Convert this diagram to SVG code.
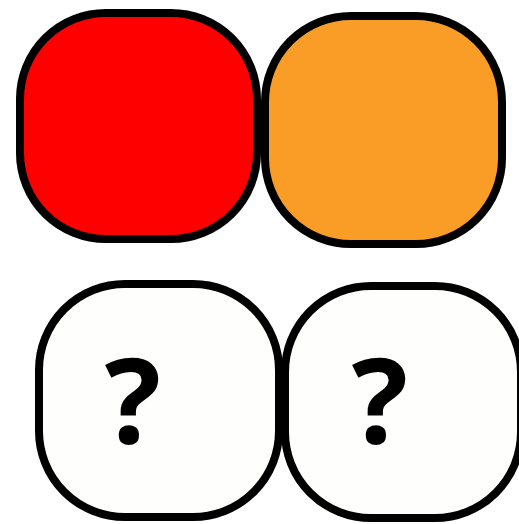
<svg xmlns="http://www.w3.org/2000/svg" width="519" height="524" viewBox="0 0 519 524">
<style>
.box{stroke:#000;stroke-width:8}
.q{font-family:"Open Sans","Noto Sans",sans-serif;font-weight:bold;font-size:118px;text-anchor:middle;fill:#000}
</style>
<rect width="519" height="524" fill="#fff"/>
<g id="red"><rect class="box" x="20" y="13" width="237" height="226" rx="86" ry="86" fill="#ff0000"/></g>
<g id="orange"><rect class="box" x="265" y="16" width="237" height="228" rx="86" ry="86" fill="#f99d26"/></g>
<g id="q1"><rect class="box" x="39" y="284" width="240" height="233" rx="86" ry="86" fill="#fefefc"/><text class="q" x="133" y="443">?</text></g>
<g id="q2"><rect class="box" x="285" y="286" width="236" height="232" rx="86" ry="86" fill="#fefefc"/><text class="q" x="380" y="443">?</text></g>
<g id="connectors"></g>
</svg>
